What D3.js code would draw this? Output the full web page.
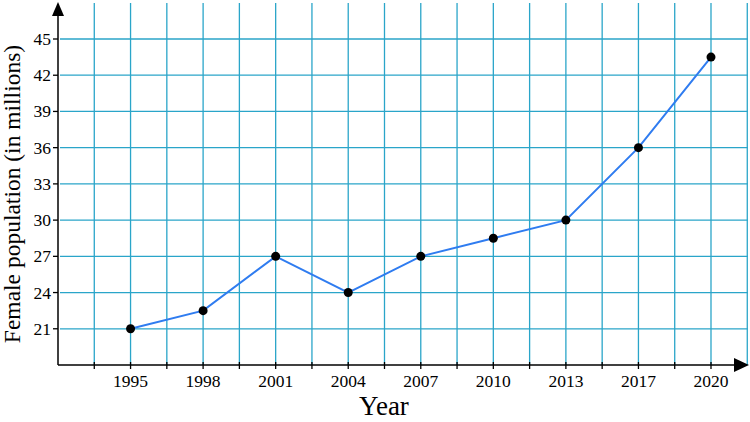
<!DOCTYPE html>
<html>
<head>
<meta charset="utf-8">
<script src="https://cdn.jsdelivr.net/npm/d3@7"></script>
<style>
  body { margin: 0; background: #fff; }
  text { font-family: "Liberation Serif", "DejaVu Serif", serif; }
</style>
</head>
<body>
<svg id="chart" width="750" height="422"></svg>
<script>
// Data
const years = ['1995', '1998', '2001', '2004', '2007', '2010', '2013', '2017', '2020'];
const population = [21, 22.5, 27, 24, 27, 28.5, 30, 36, 43.5];
const yTicks = [21, 24, 27, 30, 33, 36, 39, 42, 45];

const svg = d3.select('#chart');
const plotLeft = 58, plotBottom = 365, plotRight = 748, plotTop = 3;

// x: category index, the y axis sits one step left of the first year
const x = d3.scaleLinear().domain([-1, 8.51]).range([plotLeft, plotRight]);
const y = d3.scaleLinear().domain([18, 45]).range([plotBottom, 39]);

const gridColor = '#2aa5c9';

// vertical grid lines at every half step
const halfSteps = d3.range(-0.5, 8.51, 0.5);
svg.append('g')
  .selectAll('line')
  .data(halfSteps)
  .join('line')
  .attr('x1', d => x(d)).attr('x2', d => x(d))
  .attr('y1', plotTop).attr('y2', plotBottom)
  .attr('stroke', gridColor)
  .attr('stroke-width', 1.3);

// horizontal grid lines
svg.append('g')
  .selectAll('line')
  .data(yTicks)
  .join('line')
  .attr('x1', plotLeft + 2).attr('x2', plotRight)
  .attr('y1', d => y(d)).attr('y2', d => y(d))
  .attr('stroke', gridColor)
  .attr('stroke-width', 1.3);

// axes
svg.append('line')
  .attr('x1', plotLeft).attr('x2', plotLeft)
  .attr('y1', plotBottom).attr('y2', 14)
  .attr('stroke', '#000').attr('stroke-width', 1.5);
svg.append('path')
  .attr('d', `M${plotLeft - 6},16 L${plotLeft},2 L${plotLeft + 6},16 Z`)
  .attr('fill', '#000');

svg.append('line')
  .attr('x1', plotLeft).attr('x2', 736)
  .attr('y1', plotBottom).attr('y2', plotBottom)
  .attr('stroke', '#000').attr('stroke-width', 1.5);
svg.append('path')
  .attr('d', `M734,${plotBottom - 7} L749,${plotBottom} L734,${plotBottom + 7} Z`)
  .attr('fill', '#000');

// x ticks at every grid line
svg.append('g')
  .selectAll('line')
  .data(halfSteps.filter(d => d < 8.4))
  .join('line')
  .attr('x1', d => x(d)).attr('x2', d => x(d))
  .attr('y1', plotBottom - 3).attr('y2', plotBottom + 4)
  .attr('stroke', '#000').attr('stroke-width', 1.3);

// x tick labels
svg.append('g')
  .selectAll('text')
  .data(years)
  .join('text')
  .attr('x', (d, i) => x(i))
  .attr('y', plotBottom + 22)
  .attr('text-anchor', 'middle')
  .attr('font-size', 17.5)
  .text(d => d);

// y ticks and labels
svg.append('g')
  .selectAll('line')
  .data(yTicks)
  .join('line')
  .attr('x1', plotLeft - 5).attr('x2', plotLeft)
  .attr('y1', d => y(d)).attr('y2', d => y(d))
  .attr('stroke', '#000').attr('stroke-width', 1.3);
svg.append('g')
  .selectAll('text')
  .data(yTicks)
  .join('text')
  .attr('x', plotLeft - 7)
  .attr('y', d => y(d) + 6)
  .attr('text-anchor', 'end')
  .attr('font-size', 17.5)
  .text(d => d);

// axis titles
svg.append('text')
  .attr('x', 384).attr('y', 415)
  .attr('text-anchor', 'middle')
  .attr('font-size', 27)
  .text('Year');
svg.append('text')
  .attr('transform', 'translate(20,194) rotate(-90)')
  .attr('text-anchor', 'middle')
  .attr('font-size', 23.5)
  .text('Female population (in millions)');

// the series
const line = d3.line()
  .x((d, i) => x(i))
  .y(d => y(d));
svg.append('path')
  .datum(population)
  .attr('d', line)
  .attr('fill', 'none')
  .attr('stroke', '#2f7cf0')
  .attr('stroke-width', 2);

svg.append('g')
  .selectAll('circle')
  .data(population)
  .join('circle')
  .attr('cx', (d, i) => x(i))
  .attr('cy', d => y(d))
  .attr('r', 4.5)
  .attr('fill', '#000');
</script>
</body>
</html>
